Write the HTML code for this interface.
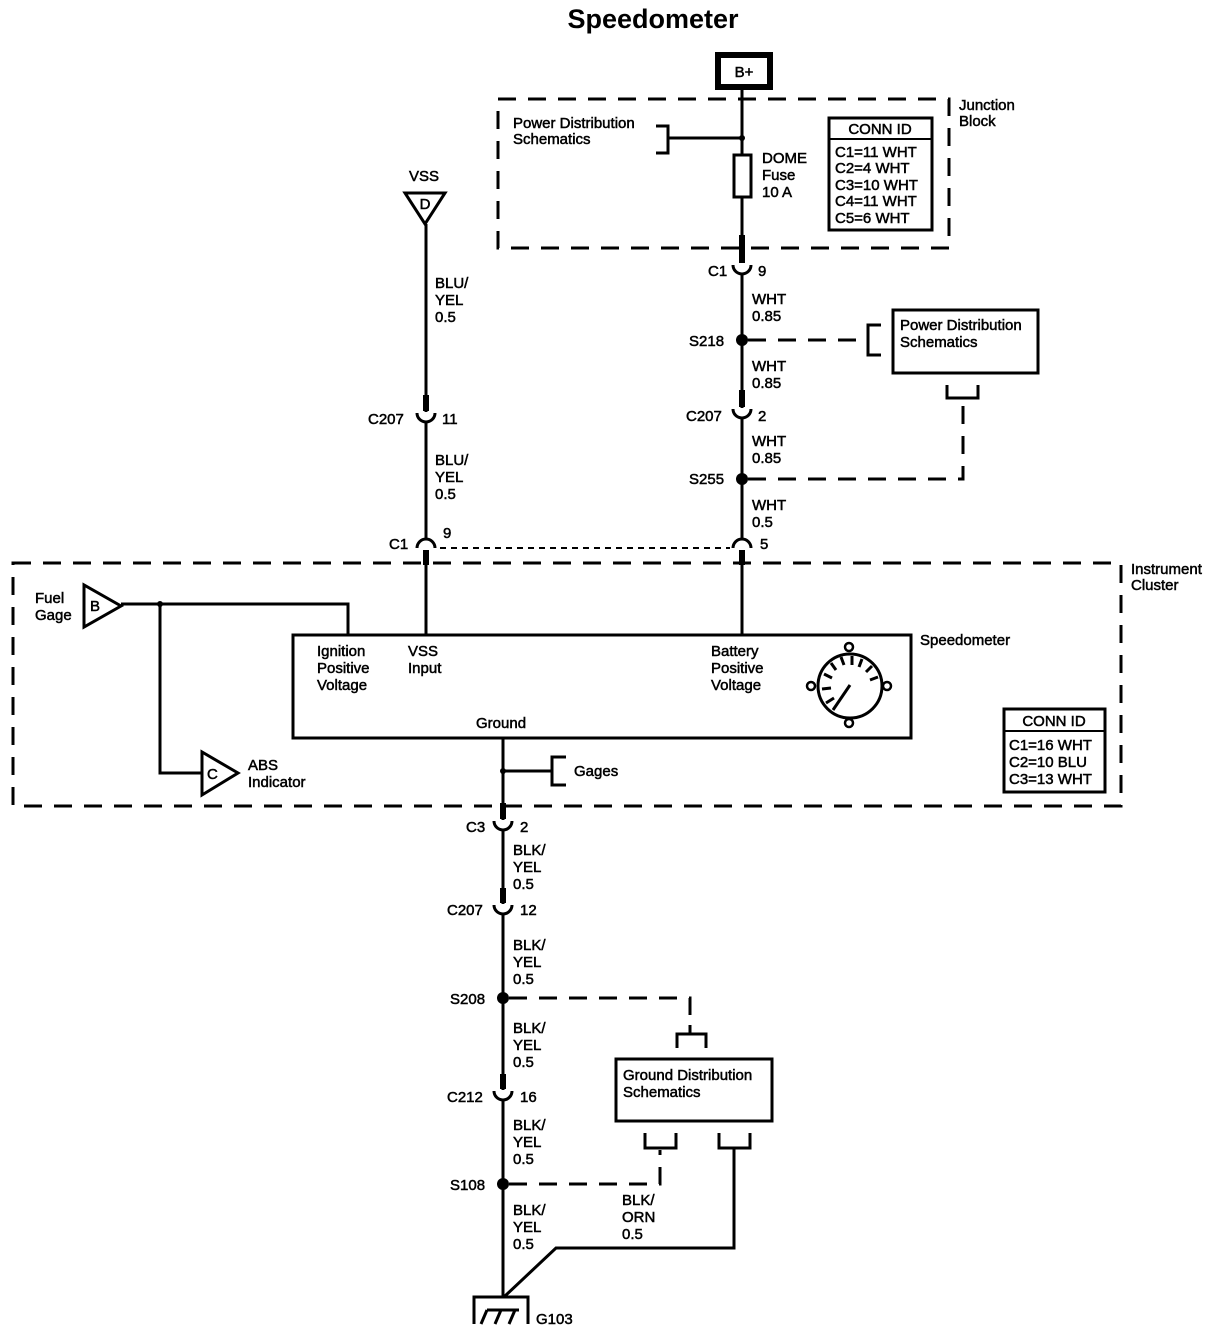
<!DOCTYPE html>
<html><head><meta charset="utf-8"><style>
html,body{margin:0;padding:0;background:#fff}
svg{display:block}
text{font-family:"Liberation Sans",Arial,sans-serif;font-size:15px;fill:#000;stroke:#000;stroke-width:0.5}
.t{font-weight:bold;font-size:27px;stroke:none}
</style></head><body>
<svg width="1214" height="1344" viewBox="0 0 1214 1344" xmlns="http://www.w3.org/2000/svg">
<g fill="none" stroke="#000">
<rect x="498" y="99" width="451" height="149" stroke-width="3" stroke-dasharray="18,12"/>
<rect x="13" y="563" width="1108" height="243" stroke-width="3" stroke-dasharray="18,12"/>
<rect x="718" y="55" width="52" height="32" stroke-width="6"/>
<line x1="742" y1="90" x2="742" y2="262" stroke-width="3"/>
<line x1="742" y1="235" x2="742" y2="263" stroke-width="6"/>
<path d="M733,265 A9,9 0 0 0 751,265" stroke-width="3"/>
<line x1="742" y1="274" x2="742" y2="408" stroke-width="3"/>
<line x1="742" y1="390" x2="742" y2="407" stroke-width="6"/>
<path d="M733,409 A9,9 0 0 0 751,409" stroke-width="3"/>
<line x1="742" y1="418" x2="742" y2="538" stroke-width="3"/>
<path d="M733,548 A9,9 0 0 1 751,548" stroke-width="3"/>
<line x1="742" y1="550" x2="742" y2="634" stroke-width="3"/>
<line x1="742" y1="550" x2="742" y2="565" stroke-width="6"/>
<rect x="734" y="155" width="17" height="42" fill="#fff" stroke-width="3"/>
<line x1="668" y1="138" x2="742" y2="138" stroke-width="3"/>
<path d="M656,126 H668 V153 H656" stroke-width="3"/>
<rect x="829" y="118" width="103" height="112" stroke-width="3"/>
<line x1="829" y1="139" x2="932" y2="139" stroke-width="2"/>
<line x1="748" y1="340" x2="868" y2="340" stroke-width="3" stroke-dasharray="18,12"/>
<path d="M881,325 H868 V355 H881" stroke-width="3"/>
<rect x="893" y="310" width="145" height="63" stroke-width="3"/>
<path d="M748,479 H963 V400" stroke-width="3" stroke-dasharray="18,12"/>
<path d="M947,385 V398 H978 V385" stroke-width="3"/>
<polygon points="405,193 445,193 425,224" stroke-width="3"/>
<line x1="426" y1="224" x2="426" y2="412" stroke-width="3"/>
<line x1="426" y1="395" x2="426" y2="411" stroke-width="6"/>
<path d="M417,413 A9,9 0 0 0 435,413" stroke-width="3"/>
<line x1="426" y1="422" x2="426" y2="538" stroke-width="3"/>
<path d="M417,548 A9,9 0 0 1 435,548" stroke-width="3"/>
<line x1="426" y1="550" x2="426" y2="634" stroke-width="3"/>
<line x1="426" y1="550" x2="426" y2="565" stroke-width="6"/>
<line x1="440" y1="548" x2="730" y2="548" stroke-width="2" stroke-dasharray="6,5"/>
<rect x="293" y="635" width="618" height="103" stroke-width="3"/>
<polygon points="84,585 84,627 121,606" stroke-width="3"/>
<path d="M121,604 H348 V635" stroke-width="3"/>
<path d="M160,604 V773 H202" stroke-width="3"/>
<polygon points="202,752 202,795 238,773" stroke-width="3"/>
<circle cx="850" cy="686" r="32" stroke-width="3"/>
<circle cx="849" cy="647" r="4" stroke-width="2.5"/>
<circle cx="849" cy="723" r="4" stroke-width="2.5"/>
<circle cx="811" cy="686" r="4" stroke-width="2.5"/>
<circle cx="887" cy="686" r="4" stroke-width="2.5"/>
<g stroke-width="3">
<line x1="826" y1="703" x2="834" y2="698"/>
<line x1="822" y1="689" x2="831" y2="688"/>
<line x1="824" y1="674" x2="832" y2="678"/>
<line x1="831" y1="663" x2="836" y2="670"/>
<line x1="841" y1="657" x2="844" y2="665"/>
<line x1="852" y1="656" x2="852" y2="665"/>
<line x1="862" y1="659" x2="859" y2="667"/>
<line x1="872" y1="666" x2="866" y2="672"/>
<line x1="878" y1="677" x2="870" y2="680"/>
<line x1="850" y1="685" x2="833" y2="710"/>
</g>
<line x1="503" y1="738" x2="503" y2="820" stroke-width="3"/>
<line x1="503" y1="803" x2="503" y2="819" stroke-width="6"/>
<path d="M494,821 A9,9 0 0 0 512,821" stroke-width="3"/>
<line x1="503" y1="830" x2="503" y2="904" stroke-width="3"/>
<line x1="503" y1="888" x2="503" y2="903" stroke-width="6"/>
<path d="M494,905 A9,9 0 0 0 512,905" stroke-width="3"/>
<line x1="503" y1="914" x2="503" y2="1090" stroke-width="3"/>
<line x1="503" y1="1074" x2="503" y2="1089" stroke-width="6"/>
<path d="M494,1091 A9,9 0 0 0 512,1091" stroke-width="3"/>
<line x1="503" y1="1100" x2="503" y2="1298" stroke-width="3"/>
<line x1="503" y1="771" x2="551" y2="771" stroke-width="3"/>
<path d="M566,757 H552 V785 H566" stroke-width="3"/>
<rect x="1004" y="709" width="101" height="83" stroke-width="3"/>
<line x1="1004" y1="731" x2="1105" y2="731" stroke-width="2"/>
<path d="M509,998 H690 V1025" stroke-width="3" stroke-dasharray="18,12"/>
<path d="M677,1048 V1034 H706 V1048" stroke-width="3"/>
<line x1="690" y1="1025" x2="690" y2="1034" stroke-width="3"/>
<rect x="616" y="1059" width="156" height="62" stroke-width="3"/>
<path d="M509,1184 H660 V1150" stroke-width="3" stroke-dasharray="18,12"/>
<path d="M645,1133 V1148 H676 V1133" stroke-width="3"/>
<path d="M719,1133 V1148 H750 V1133" stroke-width="3"/>
<path d="M734,1148 V1248 H556 L505,1296" stroke-width="3"/>
<path d="M474,1324 V1297 H528 V1324" stroke-width="3"/>
<g stroke-width="3"><line x1="487" y1="1310" x2="481" y2="1324"/><line x1="501" y1="1310" x2="495" y2="1324"/><line x1="515" y1="1310" x2="509" y2="1324"/><line x1="487" y1="1310" x2="519" y2="1310"/></g>
</g>
<g fill="#000">
<circle cx="742" cy="138" r="3"/>
<circle cx="742" cy="340" r="6"/>
<circle cx="742" cy="479" r="6"/>
<circle cx="160" cy="604" r="3"/>
<circle cx="503" cy="771" r="3"/>
<circle cx="503" cy="998" r="6"/>
<circle cx="503" cy="1184" r="6"/>
</g>
<text class="t" x="653" y="28" text-anchor="middle">Speedometer</text>
<text x="744" y="77" text-anchor="middle">B+</text>
<text x="959" y="110">Junction</text><text x="959" y="126">Block</text>
<text x="513" y="128">Power Distribution</text><text x="513" y="144">Schematics</text>
<text x="762" y="163">DOME</text><text x="762" y="180">Fuse</text><text x="762" y="197">10 A</text>
<text x="880" y="134" text-anchor="middle">CONN ID</text>
<text x="835" y="157">C1=11 WHT</text><text x="835" y="173">C2=4 WHT</text><text x="835" y="190">C3=10 WHT</text><text x="835" y="206">C4=11 WHT</text><text x="835" y="223">C5=6 WHT</text>
<text x="424" y="181" text-anchor="middle">VSS</text>
<text x="425" y="209" text-anchor="middle">D</text>
<text x="435" y="288">BLU/</text><text x="435" y="305">YEL</text><text x="435" y="322">0.5</text>
<text x="368" y="424">C207</text><text x="442" y="424">11</text>
<text x="435" y="465">BLU/</text><text x="435" y="482">YEL</text><text x="435" y="499">0.5</text>
<text x="389" y="549">C1</text><text x="443" y="538">9</text>
<text x="708" y="276">C1</text><text x="758" y="276">9</text>
<text x="752" y="304">WHT</text><text x="752" y="321">0.85</text>
<text x="689" y="346">S218</text>
<text x="900" y="330">Power Distribution</text><text x="900" y="347">Schematics</text>
<text x="752" y="371">WHT</text><text x="752" y="388">0.85</text>
<text x="686" y="421">C207</text><text x="758" y="421">2</text>
<text x="752" y="446">WHT</text><text x="752" y="463">0.85</text>
<text x="689" y="484">S255</text>
<text x="752" y="510">WHT</text><text x="752" y="527">0.5</text>
<text x="760" y="549">5</text>
<text x="1131" y="574">Instrument</text><text x="1131" y="590">Cluster</text>
<text x="35" y="603">Fuel</text><text x="35" y="620">Gage</text>
<text x="90" y="611">B</text>
<text x="207" y="779">C</text>
<text x="248" y="770">ABS</text><text x="248" y="787">Indicator</text>
<text x="920" y="645">Speedometer</text>
<text x="317" y="656">Ignition</text><text x="317" y="673">Positive</text><text x="317" y="690">Voltage</text>
<text x="408" y="656">VSS</text><text x="408" y="673">Input</text>
<text x="711" y="656">Battery</text><text x="711" y="673">Positive</text><text x="711" y="690">Voltage</text>
<text x="476" y="728">Ground</text>
<text x="574" y="776">Gages</text>
<text x="1054" y="726" text-anchor="middle">CONN ID</text>
<text x="1009" y="750">C1=16 WHT</text><text x="1009" y="767">C2=10 BLU</text><text x="1009" y="784">C3=13 WHT</text>
<text x="466" y="832">C3</text><text x="520" y="832">2</text>
<text x="513" y="855">BLK/</text><text x="513" y="872">YEL</text><text x="513" y="889">0.5</text>
<text x="447" y="915">C207</text><text x="520" y="915">12</text>
<text x="513" y="950">BLK/</text><text x="513" y="967">YEL</text><text x="513" y="984">0.5</text>
<text x="450" y="1004">S208</text>
<text x="513" y="1033">BLK/</text><text x="513" y="1050">YEL</text><text x="513" y="1067">0.5</text>
<text x="623" y="1080">Ground Distribution</text><text x="623" y="1097">Schematics</text>
<text x="447" y="1102">C212</text><text x="520" y="1102">16</text>
<text x="513" y="1130">BLK/</text><text x="513" y="1147">YEL</text><text x="513" y="1164">0.5</text>
<text x="450" y="1190">S108</text>
<text x="622" y="1205">BLK/</text><text x="622" y="1222">ORN</text><text x="622" y="1239">0.5</text>
<text x="513" y="1215">BLK/</text><text x="513" y="1232">YEL</text><text x="513" y="1249">0.5</text>
<text x="536" y="1324">G103</text>
</svg>
</body></html>
